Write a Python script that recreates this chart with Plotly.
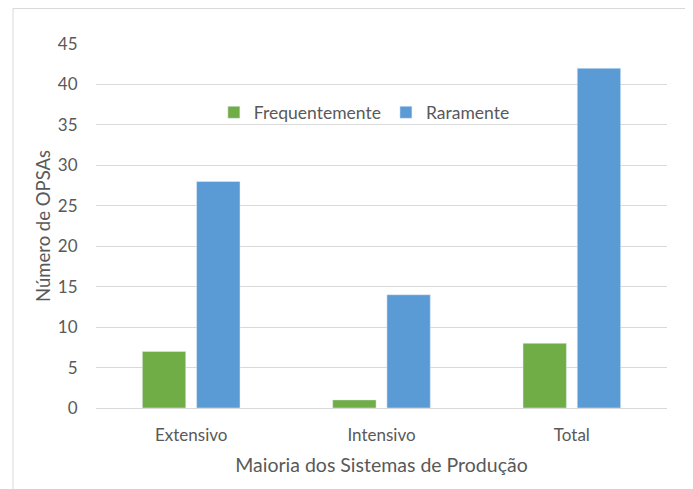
import plotly.graph_objects as go

# Número de OPSAs por sistema de produção
categorias = ["Extensivo", "Intensivo", "Total"]
frequentemente = [7, 1, 8]
raramente = [28, 14, 42]

fig = go.Figure()
fig.add_trace(go.Bar(x=categorias, y=frequentemente, name="Frequentemente",
                     marker_color="#70AD47"))
fig.add_trace(go.Bar(x=categorias, y=raramente, name="Raramente",
                     marker_color="#5B9BD5"))

# the page body adds 8px, so the figure is 8px smaller than the window
W, H = 685, 481
L, R, T, B = 88, 26, 36, 81
pw, ph = W - L - R, H - T - B

fig.update_layout(
    width=W, height=H,
    margin=dict(l=L, r=R, t=T, b=B),
    plot_bgcolor="white", paper_bgcolor="white",
    font=dict(family="Lato, Open Sans, sans-serif", color="#595959", size=17),
    bargap=0.43, bargroupgap=0.2,
    legend=dict(orientation="h", x=0.470, y=0.812, xanchor="center", yanchor="middle",
                font=dict(size=17.5), bgcolor="rgba(0,0,0,0)", itemwidth=30),
    xaxis=dict(title=dict(text="Maioria dos Sistemas de Produção", font=dict(size=19.5), standoff=13),
               showline=True, linecolor="#D9D9D9", linewidth=1,
               ticks="outside", ticklen=12, tickcolor="rgba(0,0,0,0)", tickfont=dict(size=17)),
    yaxis=dict(title=dict(text="Número de OPSAs", font=dict(size=18.5), standoff=2),
               range=[0, 45], dtick=5, gridcolor="#D9D9D9", zeroline=False,
               tickfont=dict(size=17), ticklen=14, ticks="outside", tickcolor="rgba(0,0,0,0)"),
    shapes=[
        dict(type="line", xref="paper", yref="paper",
             x0=(5 - L) / pw, x1=(5 - L) / pw, y0=-B / ph, y1=1 + (T - 0.5) / ph,
             line=dict(color="#D9D9D9", width=1)),
        dict(type="line", xref="paper", yref="paper",
             x0=(5 - L) / pw, x1=(W - L) / pw, y0=1 + (T - 0.5) / ph, y1=1 + (T - 0.5) / ph,
             line=dict(color="#D9D9D9", width=1)),
    ],
)

fig.write_html("out.html")
